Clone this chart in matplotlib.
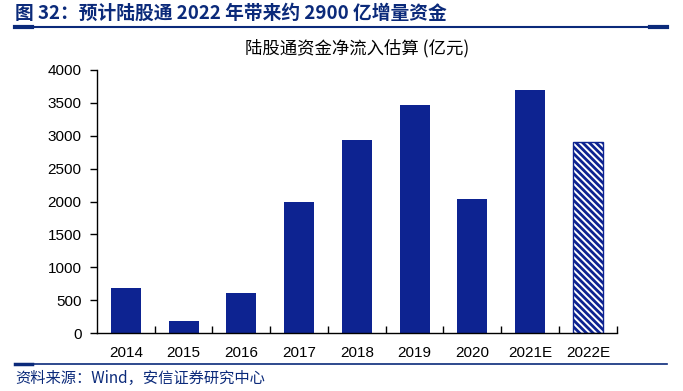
import matplotlib
matplotlib.use("Agg")
import matplotlib.pyplot as plt
from matplotlib.lines import Line2D

plt.rcParams['font.family'] = ['Liberation Sans', 'Noto Sans CJK SC', 'DejaVu Sans']
plt.rcParams['hatch.linewidth'] = 2.0

categories = ['2014', '2015', '2016', '2017', '2018', '2019', '2020', '2021E', '2022E']
values = [685, 185, 610, 1995, 2940, 3470, 2040, 3700, 2900]
yticks = [0, 500, 1000, 1500, 2000, 2500, 3000, 3500, 4000]

blue = '#0d2391'
navy = '#0b2a7a'

fig = plt.figure(figsize=(6.83, 3.91), dpi=100)
ax = fig.add_axes([0.142, 0.148, 0.761, 0.673])

x = list(range(len(categories)))
ax.bar(x[:-1], values[:-1], width=0.52, color=blue, zorder=2)
ax.bar(x[-1], values[-1], width=0.52, color='white', edgecolor=blue,
       hatch='\\\\\\\\\\', linewidth=1.0, zorder=2)

ax.set_xlim(-0.5, len(categories) - 0.5)
ax.set_ylim(0, 4000)
ax.set_yticks(yticks)
ax.set_yticklabels([str(t) for t in yticks], fontsize=11)
ax.set_xticks(x)
ax.set_xticklabels(categories, fontsize=11)
ax.tick_params(axis='x', length=0, pad=9)
ax.set_xticks([i + 0.5 for i in x], minor=True)
ax.tick_params(axis='x', which='minor', direction='in', length=5, width=1)
ax.tick_params(axis='y', direction='out', length=5, width=1, pad=6)
for s in ['top', 'right']:
    ax.spines[s].set_visible(False)
for s in ['left', 'bottom']:
    ax.spines[s].set_linewidth(1.0)
    ax.spines[s].set_color('black')

ax.set_title('陆股通资金净流入估算 (亿元)', fontsize=12.5, pad=12,
             family=['Noto Sans CJK SC', 'DejaVu Sans'])

# header
fig.text(0.022, 0.967, '图 32：预计陆股通 2022 年带来约 2900 亿增量资金', fontsize=13.5,
         fontweight='bold', color=navy, va='center',
         family=['Noto Sans CJK SC', 'DejaVu Sans'])
fig.add_artist(Line2D([0.022, 0.977], [0.930, 0.930], color=navy, lw=1.5))
fig.add_artist(Line2D([0.022, 0.047], [0.930, 0.930], color=navy, lw=3))
fig.add_artist(Line2D([0.952, 0.977], [0.930, 0.930], color=navy, lw=3))

# footer
fig.add_artist(Line2D([0.022, 0.977], [0.069, 0.069], color=navy, lw=1.2))
fig.add_artist(Line2D([0.022, 0.047], [0.069, 0.069], color=navy, lw=2.5))
fig.text(0.022, 0.033, '资料来源：Wind，安信证券研究中心', fontsize=11, style='italic',
         color=navy, va='center', family=['Noto Sans CJK SC', 'DejaVu Sans'])

fig.savefig('out.png', dpi=100)
